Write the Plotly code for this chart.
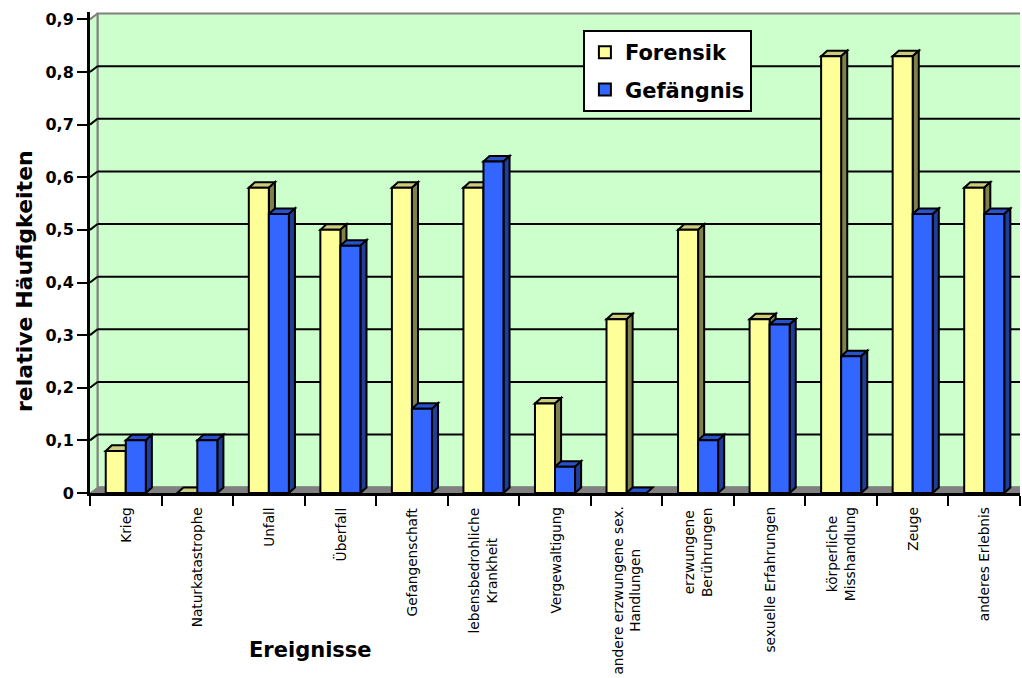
import plotly.graph_objects as go

categories = [
    "Krieg", "Naturkatastrophe", "Unfall", "Überfall", "Gefangenschaft",
    "lebensbedrohliche<br>Krankheit", "Vergewaltigung",
    "andere erzwungene sex.<br>Handlungen", "erzwungene<br>Berührungen",
    "sexuelle Erfahrungen", "körperliche<br>Misshandlung", "Zeuge", "anderes Erlebnis",
]
forensik = [0.08, 0.0, 0.58, 0.50, 0.58, 0.58, 0.17, 0.33, 0.50, 0.33, 0.83, 0.83, 0.58]
gefaengnis = [0.10, 0.10, 0.53, 0.47, 0.16, 0.63, 0.05, 0.0, 0.10, 0.32, 0.26, 0.53, 0.53]
y_tick_values = [0, 0.1, 0.2, 0.3, 0.4, 0.5, 0.6, 0.7, 0.8, 0.9]
y_tick_labels = ["0", "0,1", "0,2", "0,3", "0,4", "0,5", "0,6", "0,7", "0,8", "0,9"]

FONT = "DejaVu Sans"
n = len(categories)
x_idx = list(range(n))
W = 0.28            # bar width (category units)
DXB, DYB = 0.085, 0.0105   # bar depth offsets
DXW, DYW = 0.105, 0.011    # wall depth offsets
X0, X1 = -0.5, n - 0.5
YTOP = 0.914

F_FRONT, F_TOP, F_SIDE = "#FFFF99", "#CCCC7A", "#80804D"
G_FRONT, G_TOP, G_SIDE = "#3366FF", "#2952CC", "#1F3D99"
WALL = "#CCFFCC"
GRAY = "#808080"


def path_shape(pts, fill, lw=2, lc="black"):
    p = "M " + " L ".join(f"{x},{y}" for x, y in pts) + " Z"
    return dict(type="path", path=p, xref="x", yref="y", fillcolor=fill,
                line=dict(color=lc, width=lw), layer="below")


shapes = []
# back wall
shapes.append(dict(type="rect", xref="x", yref="y", x0=X0 + DXW, x1=X1 + DXW,
                   y0=DYW, y1=0.9 + DYW, fillcolor=WALL,
                   line=dict(color=GRAY, width=2), layer="below"))
# left wall
shapes.append(path_shape([(X0, 0), (X0, 0.9), (X0 + DXW, 0.9 + DYW), (X0 + DXW, DYW)],
                         WALL, lw=0, lc=WALL))
shapes.append(dict(type="line", xref="x", yref="y", x0=X0 + DXW, x1=X0 + DXW,
                   y0=DYW, y1=0.9 + DYW, line=dict(color=GRAY, width=2), layer="below"))
# floor
shapes.append(path_shape([(X0, 0), (X1, 0), (X1 + DXW, DYW), (X0 + DXW, DYW)],
                         GRAY, lw=1, lc=GRAY))
# gridlines on wall + diagonals on left wall
for v in y_tick_values[1:]:
    col = GRAY if v >= 0.9 else "black"
    if v < 0.9:
        shapes.append(dict(type="line", xref="x", yref="y", x0=X0 + DXW, x1=X1 + DXW,
                           y0=v + DYW, y1=v + DYW, line=dict(color="black", width=2),
                           layer="below"))
    shapes.append(dict(type="line", xref="x", yref="y", x0=X0, x1=X0 + DXW,
                       y0=v, y1=v + DYW, line=dict(color=col, width=2), layer="below"))

# 3D faces of bars
for i in range(n):
    for val, xl, top, side in ((forensik[i], i - W, F_TOP, F_SIDE),
                               (gefaengnis[i], i, G_TOP, G_SIDE)):
        xr = xl + W
        shapes.append(path_shape([(xl, val), (xl + DXB, val + DYB),
                                  (xr + DXB, val + DYB), (xr, val)], top))
        if val > 0:
            shapes.append(path_shape([(xr, 0), (xr, val), (xr + DXB, val + DYB),
                                      (xr + DXB, DYB)], side))

fig = go.Figure()
fig.add_trace(go.Bar(name="Forensik", x=x_idx, y=forensik, width=W, offset=-W,
                     marker=dict(color=F_FRONT, line=dict(color="black", width=2)),
                     legendgroup="f"))
fig.add_trace(go.Bar(name="Gefängnis", x=x_idx, y=gefaengnis, width=W, offset=0,
                     marker=dict(color=G_FRONT, line=dict(color="black", width=2)),
                     legendgroup="g"))

annotations = []
for i, c in enumerate(categories):
    annotations.append(dict(x=i, y=0, xref="x", yref="paper", text=c, textangle=-90,
                            showarrow=False, xanchor="center", yanchor="top", yshift=-12,
                            font=dict(family=FONT, size=13.7, color="black")))
annotations.append(dict(x=0.2366, y=-0.326, xref="paper", yref="paper", text="Ereignisse",
                        showarrow=False, xanchor="center", yanchor="middle",
                        font=dict(family=FONT, size=21, color="black", weight="bold")))
annotations.append(dict(x=-0.071, y=0.4407, xref="paper", yref="paper",
                        text="relative Häufigkeiten", textangle=-90,
                        showarrow=False, xanchor="center", yanchor="middle",
                        font=dict(family=FONT, size=22, color="black", weight="bold")))

fig.update_layout(
    width=1022, height=678,
    margin=dict(l=90, r=2, t=12, b=185),
    paper_bgcolor="white", plot_bgcolor="white",
    barmode="overlay",
    shapes=shapes, annotations=annotations,
    showlegend=True,
    legend=dict(x=0.530, y=0.9626, xanchor="left", yanchor="top",
                bgcolor="white", bordercolor="black", borderwidth=2,
                traceorder="grouped", tracegroupgap=7,
                font=dict(family=FONT, size=21, color="black", weight="bold")),
    xaxis=dict(range=[X0, X1], tickmode="array",
               tickvals=[k - 0.5 for k in range(n + 1)], showticklabels=False,
               ticks="outside", ticklen=10, tickwidth=2, tickcolor="black",
               showline=True, linecolor="black", linewidth=3,
               showgrid=False, zeroline=False, fixedrange=True),
    yaxis=dict(range=[0, YTOP], tickmode="array", tickvals=y_tick_values,
               ticktext=y_tick_labels, ticks="outside", ticklen=10, tickwidth=2,
               tickcolor="black", showline=True, linecolor="black", linewidth=3,
               showgrid=False, zeroline=False, fixedrange=True,
               tickfont=dict(family=FONT, size=16, color="black", weight="bold")),
)

fig.write_html("out.html")
